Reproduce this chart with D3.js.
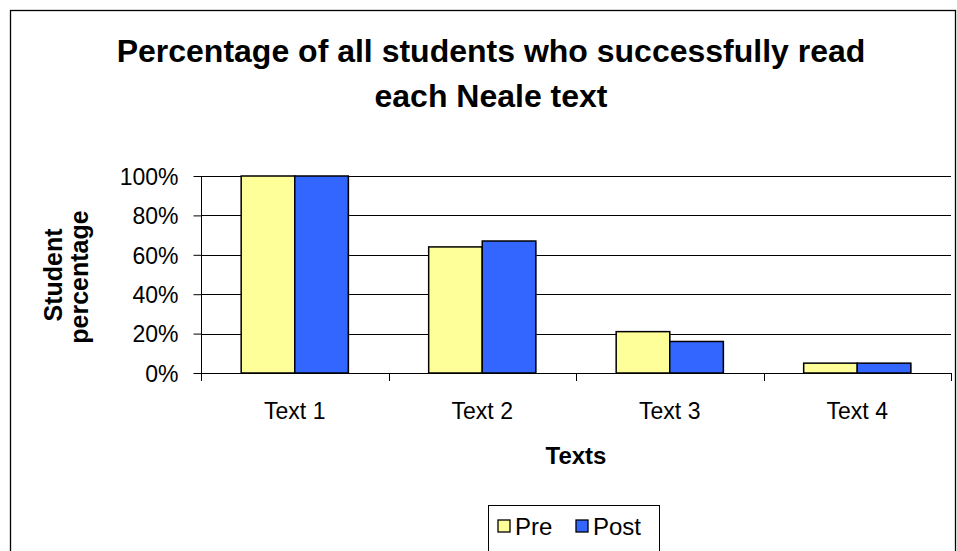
<!DOCTYPE html>
<html><head><meta charset="utf-8">
<script src="https://cdn.jsdelivr.net/npm/d3@7"></script>
<style>body{margin:0;background:#fff}svg{display:block;font-family:"Liberation Sans",Arial,sans-serif}</style>
</head><body><svg id="c" width="957" height="551"></svg>
<script>
const categories = ["Text 1","Text 2","Text 3","Text 4"];
const seriesNames = ["Pre","Post"];
const preValues = [100, 64, 21, 5];
const postValues = [100, 67, 16, 5];
const yTicks = [0,20,40,60,80,100];
const colors = ["#FFFF99","#3366FF"];

const svg = d3.select("#c");
svg.append("rect").attr("x",10.5).attr("y",10.5).attr("width",945).attr("height",600)
  .attr("fill","#fff").attr("stroke","#000").attr("stroke-width",1.3);

const L=201,R=951,T=176,B=373;
const x = d3.scaleBand().domain(categories).range([L,R]);
const xs = d3.scaleBand().domain(seriesNames).range([0,x.bandwidth()]).paddingInner(0).paddingOuter(0.75);
const y = d3.scaleLinear().domain([0,100]).range([B,T]);

svg.append("g").selectAll("line").data(yTicks.filter(d=>d>0)).join("line")
  .attr("x1",L).attr("x2",R).attr("y1",d=>Math.round(y(d))+0.5).attr("y2",d=>Math.round(y(d))+0.5)
  .attr("stroke","#000").attr("stroke-width",1);

const data = categories.map((c,i)=>({c, v:[preValues[i],postValues[i]]}));
const g = svg.append("g");
data.forEach(d=>{
  seriesNames.forEach((s,j)=>{
    const bx = x(d.c)+xs(s), by = y(d.v[j]);
    g.append("rect").attr("x",bx+1).attr("y",by+1).attr("width",xs.bandwidth()).attr("height",B-by)
      .attr("fill","#999").attr("opacity",0.5);
    g.append("rect").attr("x",bx).attr("y",by).attr("width",xs.bandwidth()).attr("height",B-by)
      .attr("fill",colors[j]).attr("stroke","#000").attr("stroke-width",1.5);
  });
});

const ya = d3.axisLeft(y).tickValues(yTicks).tickFormat(d=>d+"%").tickSize(8).tickSizeOuter(0);
const yg = svg.append("g").attr("transform",`translate(${L+0.5},0)`).call(ya);
yg.select(".domain").attr("d",`M0,${T}V${B+8}`).attr("stroke","#000");
yg.selectAll(".tick line").attr("stroke","#000");
yg.selectAll(".tick text").attr("font-size",23).attr("fill","#000").attr("x",-23).attr("dy","0.36em")
  .attr("font-family","Liberation Sans, Arial, sans-serif");

const xa = svg.append("g");
xa.append("line").attr("x1",L).attr("x2",R).attr("y1",B+0.5).attr("y2",B+0.5).attr("stroke","#000");
xa.selectAll("line.t").data(categories).join("line").attr("class","t")
  .attr("x1",d=>Math.round(x(d)+x.bandwidth())+0.5).attr("x2",d=>Math.round(x(d)+x.bandwidth())+0.5)
  .attr("y1",B).attr("y2",B+8).attr("stroke","#000");
xa.selectAll("text").data(categories).join("text")
  .attr("x",d=>x(d)+x.bandwidth()/2).attr("y",419).attr("text-anchor","middle")
  .attr("font-size",23).text(d=>d);

svg.append("text").attr("x",491).attr("y",62).attr("text-anchor","middle").attr("font-size",32)
  .attr("font-weight","bold").text("Percentage of all students who successfully read");
svg.append("text").attr("x",491).attr("y",107).attr("text-anchor","middle").attr("font-size",32)
  .attr("font-weight","bold").text("each Neale text");
svg.append("text").attr("x",576).attr("y",464).attr("text-anchor","middle").attr("font-size",24)
  .attr("font-weight","bold").text("Texts");
svg.append("text").attr("transform","translate(62,275) rotate(-90)").attr("text-anchor","middle")
  .attr("font-size",25).attr("font-weight","bold").text("Student");
svg.append("text").attr("transform","translate(88,277) rotate(-90)").attr("text-anchor","middle")
  .attr("font-size",25).attr("font-weight","bold").text("percentage");

const lg = svg.append("g");
lg.append("rect").attr("x",488.5).attr("y",505.5).attr("width",171).attr("height",60).attr("fill","#fff").attr("stroke","#000");
const lx = [498,576];
seriesNames.forEach((s,j)=>{
  lg.append("rect").attr("x",lx[j]).attr("y",520).attr("width",12).attr("height",12)
    .attr("fill",colors[j]).attr("stroke","#000").attr("stroke-width",1.3);
  lg.append("text").attr("x",lx[j]+17).attr("y",535).attr("font-size",24).text(s);
});
</script></body></html>
